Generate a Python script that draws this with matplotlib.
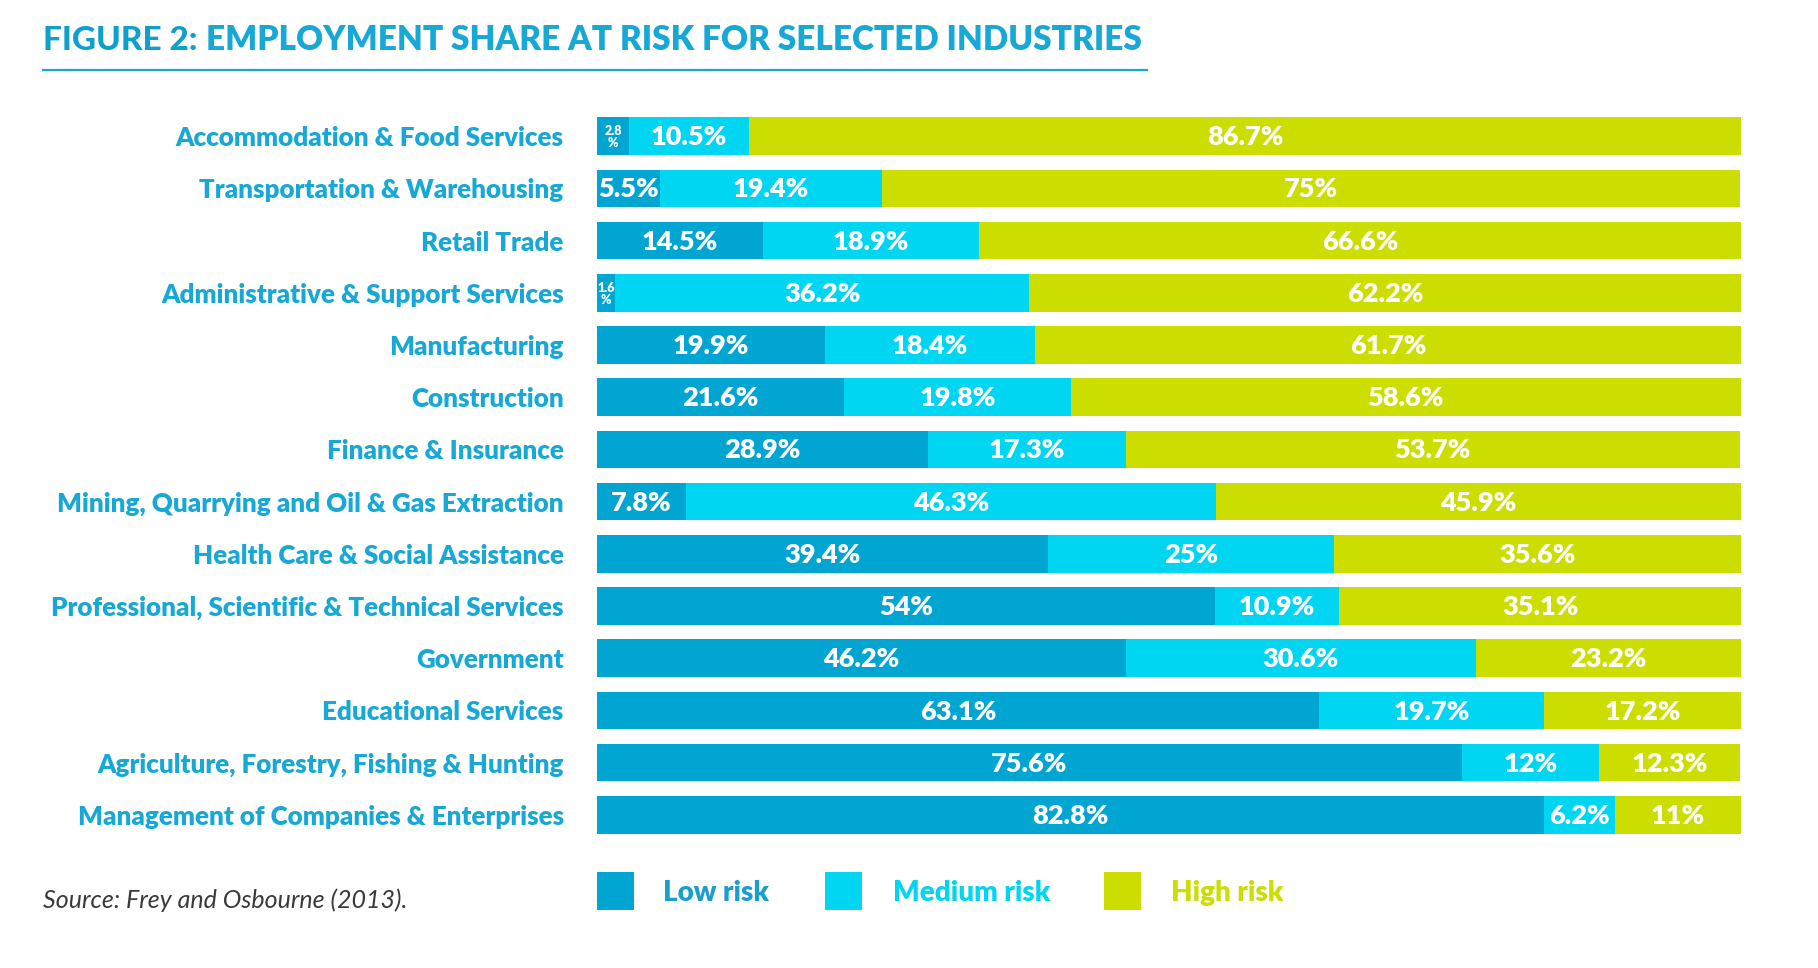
import matplotlib
matplotlib.use("Agg")
import matplotlib.pyplot as plt
from matplotlib.patches import Rectangle
from matplotlib.lines import Line2D

plt.rcParams['font.family'] = ['Lato', 'DejaVu Sans']

categories = [
    "Accommodation & Food Services",
    "Transportation & Warehousing",
    "Retail Trade",
    "Administrative & Support Services",
    "Manufacturing",
    "Construction",
    "Finance & Insurance",
    "Mining, Quarrying and Oil & Gas Extraction",
    "Health Care & Social Assistance",
    "Professional, Scientific & Technical Services",
    "Government",
    "Educational Services",
    "Agriculture, Forestry, Fishing & Hunting",
    "Management of Companies & Enterprises",
]
low = [2.8, 5.5, 14.5, 1.6, 19.9, 21.6, 28.9, 7.8, 39.4, 54, 46.2, 63.1, 75.6, 82.8]
medium = [10.5, 19.4, 18.9, 36.2, 18.4, 19.8, 17.3, 46.3, 25, 10.9, 30.6, 19.7, 12, 6.2]
high = [86.7, 75, 66.6, 62.2, 61.7, 58.6, 53.7, 45.9, 35.6, 35.1, 23.2, 17.2, 12.3, 11]
series_names = ["Low risk", "Medium risk", "High risk"]

C_LOW = "#01A5D1"
C_MED = "#00D5F2"
C_HIGH = "#CBDE00"
C_TITLE = "#17A8D5"
BOLD = 'heavy'

W, H = 1818, 968
fig = plt.figure(figsize=(W / 100, H / 100), dpi=100)

ax_left, ax_right = 597, 1741
ax_top, ax_bot = 110, 841
ax = fig.add_axes([ax_left / W, 1 - ax_bot / H, (ax_right - ax_left) / W, (ax_bot - ax_top) / H])

y = list(range(len(categories)))
bh = 0.72
left = [0] * len(y)
for vals, col in zip([low, medium, high], [C_LOW, C_MED, C_HIGH]):
    ax.barh(y, vals, left=left, height=bh, color=col, edgecolor='none')
    for i, v in enumerate(vals):
        cx = left[i] + v / 2
        s = f"{v:g}"
        if v < 4:
            ax.text(cx, i + 0.02, s + "\n%", ha='center', va='center', color='white',
                    fontsize=9, fontweight=BOLD, linespacing=1.05)
        else:
            ax.text(cx, i + 0.02, s + "%", ha='center', va='center', color='white',
                    fontsize=19.5, fontweight=BOLD)
    left = [l + v for l, v in zip(left, vals)]

ax.set_xlim(0, 100)
ax.set_ylim(len(y) - 0.5, -0.5)
ax.set_yticks(y)
ax.set_yticklabels(categories, fontsize=18.7, fontweight=BOLD, color=C_TITLE)
ax.tick_params(axis='y', length=0, pad=24)
ax.set_xticks([])
for sp in ax.spines.values():
    sp.set_visible(False)

# Title
fig.canvas.draw()
r = fig.canvas.get_renderer()
t1 = fig.text(43 / W, 1 - 40 / H, "FIGURE 2:", fontsize=24, fontweight='black',
              color="#0E9FCC", va='center', ha='left')
bb = t1.get_window_extent(renderer=r)
fig.text((bb.x1 + 8) / W, 1 - 40 / H, "EMPLOYMENT SHARE AT RISK FOR SELECTED INDUSTRIES",
         fontsize=24, fontweight=BOLD, color=C_TITLE, va='center', ha='left')
fig.add_artist(Line2D([43 / W, 1147 / W], [1 - 70 / H, 1 - 70 / H], color=C_TITLE, lw=1.6))

# Source
fig.text(43 / W, 1 - 900 / H, "Source: Frey and Osbourne (2013).", fontsize=18,
         fontstyle='italic', fontweight='normal', color="#3A3A3A", va='center', ha='left')

# Legend
leg = [(597, 663, C_LOW, "#1A9FCC"), (825, 893, C_MED, C_MED), (1104, 1171, C_HIGH, C_HIGH)]
for (sx, tx, col, tcol), name in zip(leg, series_names):
    fig.add_artist(Rectangle((sx / W, 1 - 910 / H), 37 / W, 38 / H, transform=fig.transFigure,
                             color=col, lw=0))
    fig.text(tx / W, 1 - 893 / H, name, fontsize=20, fontweight=BOLD, color=tcol,
             va='center', ha='left')

fig.savefig("out.png", dpi=100)
